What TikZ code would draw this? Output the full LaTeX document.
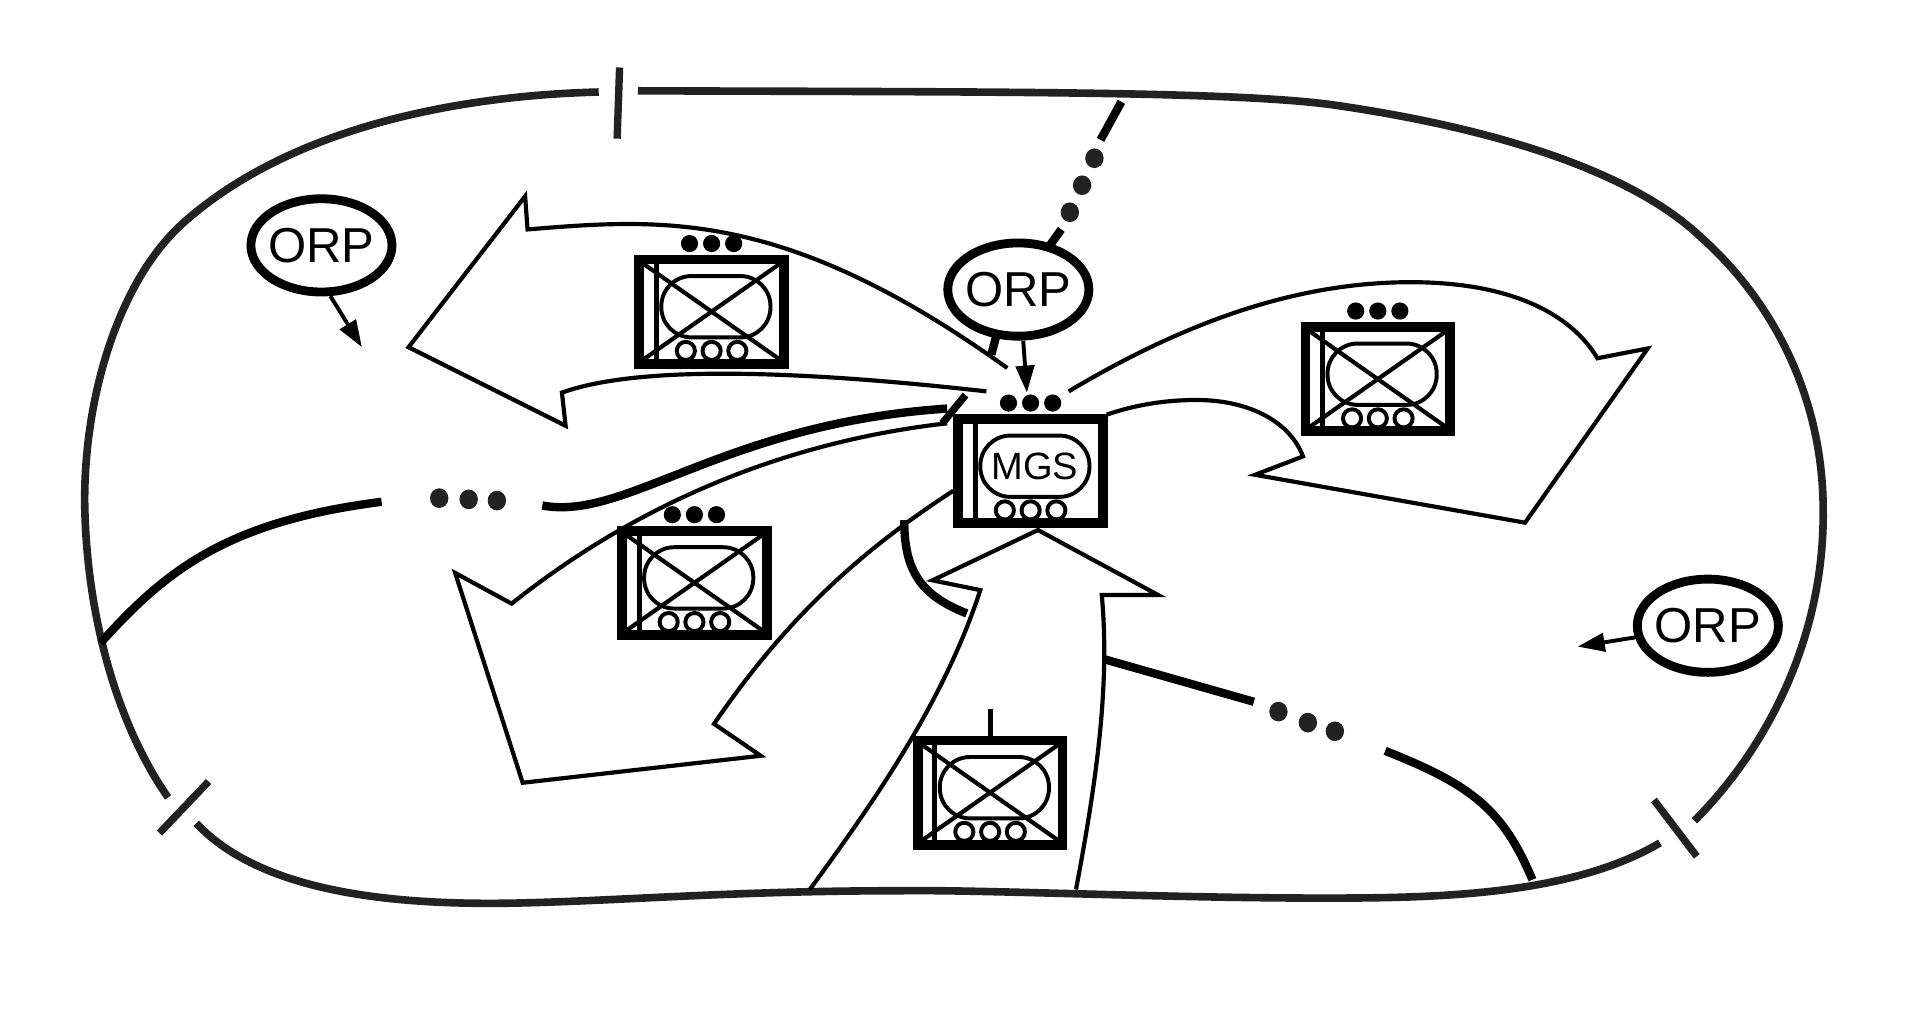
\documentclass[tikz,border=0pt]{standalone}
\usepackage{fontspec}
\setmainfont{Liberation Sans}
\usetikzlibrary{shapes.geometric,arrows.meta}
\definecolor{ink}{HTML}{222222}
\tikzset{
  outerline/.style={draw=ink,line width=3.1pt,line cap=butt},
  ticker/.style={draw=ink,line width=3pt},
  flow/.style={draw=black,line width=1.7pt,line join=miter,miter limit=10},
  road/.style={draw=black,line width=3.4pt},
  orp/.style={ellipse,draw=black,line width=3.6pt,fill=white,minimum width=57.5pt,minimum height=38pt,inner sep=-2pt,font=\fontsize{20}{22}\selectfont},
  orparrow/.style={draw=black,line width=1.6pt,-{Triangle[length=11pt,width=7.5pt]}},
  unitbox/.style={rectangle,draw=black,line width=4pt,fill=white,minimum width=59pt,minimum height=42.5pt,inner sep=0pt},
  thin part/.style={draw=black,line width=1.7pt},
  barline/.style={draw=black,line width=2pt},
  bodyshape/.style={rectangle,draw=black,line width=1.6pt,rounded corners=12.3pt,minimum width=44.5pt,minimum height=25pt,inner sep=0pt,font=\fontsize{15.5}{17}\selectfont},
  wheel/.style={circle,draw=black,line width=1.6pt,fill=white,minimum size=7.4pt,inner sep=0pt},
  dotn/.style={circle,fill=black,minimum size=7pt,inner sep=0pt},
  bigdot/.style={ellipse,fill=ink,minimum width=7.5pt,minimum height=8pt,inner sep=0pt},
}
% #1 name, #2 x, #3 y, #4 body text, #5 1 if crossed
\newcommand{\tanksym}[5]{%
  \begin{scope}[shift={(#2,#3)}]
    \node[unitbox] (#1) at (0,0) {};
    \coordinate (#1 bar top) at (-45,-42);
    \coordinate (#1 bar bot) at (-45,42);
    \draw[barline] (#1 bar top) -- (#1 bar bot);
    \node[bodyshape] (#1 body) at (3.5,-4) {#4};
    \ifnum#5=1
      \coordinate (#1 nw) at (-57,-40);
      \coordinate (#1 ne) at (57,-40);
      \coordinate (#1 sw) at (-57,40);
      \coordinate (#1 se) at (57,40);
      \draw[thin part] (#1 nw) -- (#1 se);
      \draw[thin part] (#1 sw) -- (#1 ne);
    \fi
    \node[wheel] (#1 wa) at (-21,32) {};
    \node[wheel] (#1 wb) at (0,32) {};
    \node[wheel] (#1 wc) at (21,32) {};
  \end{scope}}
\newcommand{\threedots}[2]{%
  \node[dotn] (#1 da) at ([xshift=-9pt,yshift=4.5pt]#2) {};
  \node[dotn] (#1 db) at ([yshift=4.5pt]#2) {};
  \node[dotn] (#1 dc) at ([xshift=9pt,yshift=4.5pt]#2) {};}
\begin{document}
\begin{tikzpicture}[x=0.5pt,y=-0.5pt]
\useasboundingbox (0,0) rectangle (1569,825);
\fill[white] (0,0) rectangle (1569,825);
% outer boundary
\draw[outerline] (488,75) .. controls (370,78) and (235,105) .. (149,182)
  .. controls (98,228) and (69,320) .. (69,408)
  .. controls (70,500) and (95,590) .. (137,650);
\draw[outerline] (160,671) .. controls (215,730) and (330,738) .. (423,736)
  .. controls (510,734) and (600,726) .. (734,726)
  .. controls (800,725) and (950,732) .. (1079,732)
  .. controls (1170,732) and (1280,730) .. (1353,687);
\draw[outerline] (1381,669) .. controls (1440,610) and (1487,520) .. (1486,416)
  .. controls (1486,330) and (1450,250) .. (1386,193)
  .. controls (1330,140) and (1220,105) .. (1090,86)
  .. controls (1010,74) and (800,75) .. (520,74);
\draw[ticker] (505,55) -- (503,113);
\draw[ticker] (170,637) -- (130,679);
\draw[ticker] (1348,652) -- (1383,698);
% roads
\draw[road] (82,524) .. controls (135,465) and (185,425) .. (311,409);
\node[bigdot] (la) at (358,406) {};
\node[bigdot] (lb) at (382,407) {};
\node[bigdot] (lc) at (405,408) {};
\draw[road] (442,412) .. controls (510,425) and (590,345) .. (772,333);
\draw[road,line width=3pt] (787,322) -- (768,345);
\draw[road] (737,424) .. controls (737,465) and (750,485) .. (788,500);
\draw[road] (899,537) -- (1022,572);
\node[bigdot] (ra) at (1042,580) {};
\node[bigdot] (rb) at (1066,589) {};
\node[bigdot] (rc) at (1088,596) {};
\draw[road] (1129,612) .. controls (1200,640) and (1225,660) .. (1249,717);
% flow arrows
\draw[flow] (821,300) .. controls (640,170) and (540,178) .. (430,187)
  -- (428,160) -- (333,283) -- (461,347) -- (458,320)
  .. controls (500,305) and (590,295) .. (804,319);
\draw[flow] (871,319) .. controls (970,260) and (1060,230) .. (1150,230)
  .. controls (1230,230) and (1280,255) .. (1302,292)
  -- (1343,284) -- (1243,426) -- (1023,387) -- (1062,372)
  .. controls (1052,345) and (1020,326) .. (975,326)
  .. controls (950,326) and (925,330) .. (902,338);
\draw[flow] (772,345) .. controls (640,360) and (520,410) .. (417,492)
  -- (371,467) -- (426,638) -- (620,616) -- (582,590)
  .. controls (640,505) and (700,450) .. (777,400);
\draw[flow] (660,725) .. controls (715,650) and (770,570) .. (799,481)
  -- (760,473) -- (846,432) -- (944,485) -- (898,485)
  .. controls (905,560) and (893,640) .. (877,725);
% units
\tanksym{ua}{580}{254}{}{1}
\tanksym{ub}{1123}{309}{}{1}
\tanksym{uc}{566}{475}{}{1}
\tanksym{ud}{807}{646}{}{1}
\tanksym{mgs}{840}{384}{MGS}{0}
\threedots{ua}{ua.north}
\threedots{ub}{ub.north}
\threedots{uc}{uc.north}
\threedots{mgs}{mgs.north}
\coordinate (ud top) at (807,578);
\draw[barline] (ud.north) -- (ud top);
% ORP
\coordinate (topa) at (914,83);
\coordinate (topb) at (897,114);
\draw[road] (topa) -- (topb);
\node[bigdot] (tda) at (892,129) {};
\node[bigdot] (tdb) at (882,151) {};
\node[bigdot] (tdc) at (872,173) {};
\coordinate (topc) at (865,187);
\coordinate (hub) at (808,289);
\coordinate (ta) at (295,283);
\coordinate (tb) at (837,320);
\coordinate (tc) at (1286,527);
\node[orp] (orpa) at (262,200) {ORP};
\node[orp] (orpc) at (1392,510) {ORP};
\draw[road] (topc) -- (830,236);
\draw[road] (813,270) -- (hub);
\node[orp] (orpb) at (830,236) {ORP};
\draw[orparrow] (orpa.280) -- (ta);
\draw[orparrow] (orpb.south) ++(4,0) -- (tb);
\draw[orparrow] (orpc) -- (tc);
\end{tikzpicture}
\end{document}
